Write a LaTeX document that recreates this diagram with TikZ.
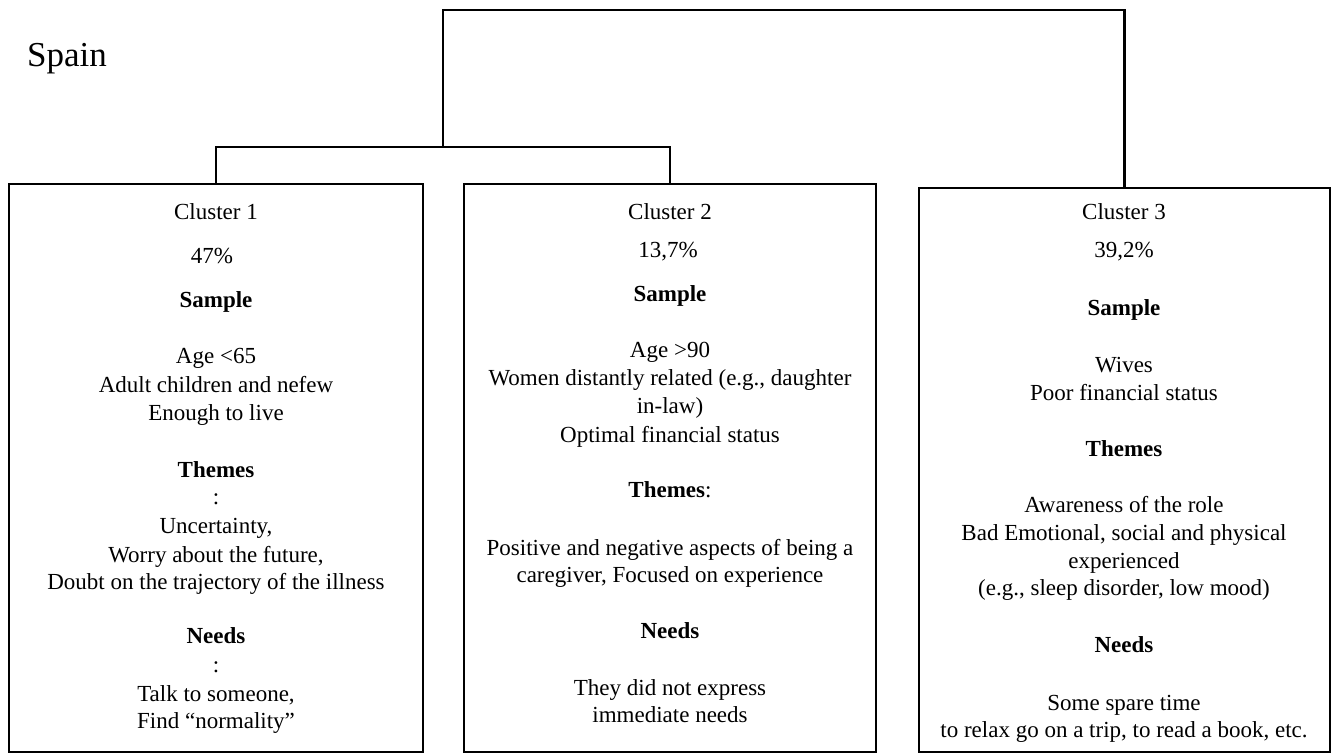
\documentclass[tikz,border=0pt]{standalone}
\usepackage{fontspec}
\setmainfont{Liberation Serif}
\newcommand\mytx[4]{\node[tl] (#1) at (#2,#3) {#4};}
\begin{document}
\begin{tikzpicture}[x=1pt,y=-1pt,
  tl/.style={anchor=base,inner sep=0pt,font=\fontsize{23}{28}\selectfont},
  cbox/.style={draw,line width=2.5pt,inner sep=0pt},
  conn/.style={line width=2.5pt}]
\useasboundingbox (0,0) rectangle (1333,754);
\node[anchor=base west,inner sep=0pt,font=\fontsize{35}{40}\selectfont] (spain) at (27,67) {Spain};
% boxes
\node[cbox,minimum width=414pt,minimum height=568pt] (b1) at (216,468) {};
\node[cbox,minimum width=412pt,minimum height=568pt] (b2) at (670,468) {};
\node[cbox,minimum width=411pt,minimum height=564pt] (b3) at (1124.5,470) {};
% connectors
\coordinate (j12) at (443,147);
\coordinate (root) at (443,10);
\draw[conn] (b1.north) |- (j12) -| (b2.north);
\draw[conn] (j12) -- (root) -| (b3.north);
% cluster 1
\mytx{c1t}{216}{219}{Cluster 1}
\mytx{c1p}{212}{263}{47\%}
\mytx{c1s}{216}{307}{\textbf{Sample}}
\mytx{c1a}{216}{363}{Age <65}
\mytx{c1b}{216}{392}{Adult children and nefew}
\mytx{c1c}{216}{420}{Enough to live}
\mytx{c1h}{216}{477}{\textbf{Themes}}
\mytx{c1k}{216}{504}{:}
\mytx{c1d}{216}{533}{Uncertainty,}
\mytx{c1e}{216}{562}{Worry about the future,}
\mytx{c1f}{216}{589}{Doubt on the trajectory of the illness}
\mytx{c1n}{216}{643}{\textbf{Needs}}
\mytx{c1m}{216}{672}{:}
\mytx{c1g}{216}{701}{Talk to someone,}
\mytx{c1i}{216}{728}{Find “normality”}
% cluster 2
\mytx{c2t}{670}{220}{Cluster 2}
\mytx{c2p}{668}{258}{13,7\%}
\mytx{c2s}{670}{301}{\textbf{Sample}}
\mytx{c2a}{670}{357}{Age >90}
\mytx{c2b}{670}{385}{Women distantly related (e.g., daughter}
\mytx{c2c}{670}{413}{in-law)}
\mytx{c2d}{670}{442}{Optimal financial status}
\mytx{c2h}{670}{497}{\textbf{Themes}:}
\mytx{c2e}{670}{555}{Positive and negative aspects of being a}
\mytx{c2f}{670}{582}{caregiver, Focused on experience}
\mytx{c2n}{670}{638}{\textbf{Needs}}
\mytx{c2g}{670}{695}{They did not express}
\mytx{c2i}{670}{722}{immediate needs}
% cluster 3
\mytx{c3t}{1124}{220}{Cluster 3}
\mytx{c3p}{1124}{258}{39,2\%}
\mytx{c3s}{1124}{315}{\textbf{Sample}}
\mytx{c3a}{1124}{372}{Wives}
\mytx{c3b}{1124}{400}{Poor financial status}
\mytx{c3h}{1124}{456}{\textbf{Themes}}
\mytx{c3c}{1124}{512}{Awareness of the role}
\mytx{c3d}{1124}{540}{Bad Emotional, social and physical}
\mytx{c3e}{1124}{568}{experienced}
\mytx{c3f}{1124}{595}{(e.g., sleep disorder, low mood)}
\mytx{c3n}{1124}{652}{\textbf{Needs}}
\mytx{c3g}{1124}{710}{Some spare time}
\mytx{c3i}{1124}{737}{to relax go on a trip, to read a book, etc.}
\end{tikzpicture}
\end{document}
